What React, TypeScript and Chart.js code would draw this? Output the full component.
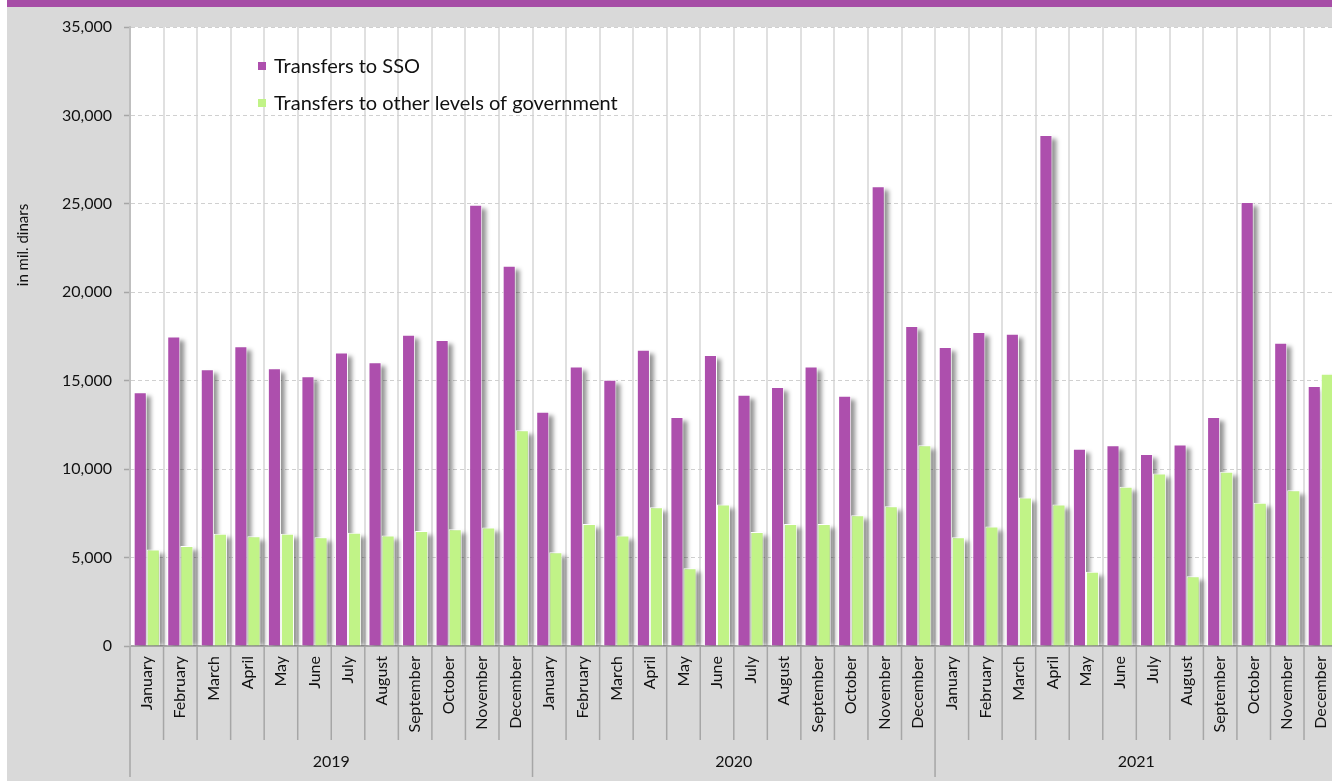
import React, { useEffect, useRef } from "react";
import { Chart, registerables } from "chart.js";

Chart.register(...registerables);

const months = ["January", "February", "March", "April", "May", "June", "July", "August", "September", "October", "November", "December"];
const years = ["2019", "2020", "2021"];

const sso2019 = [14350, 17500, 15650, 16950, 15700, 15250, 16600, 16050, 17600, 17300, 24950, 21500];
const sso2020 = [13250, 15800, 15050, 16750, 12950, 16450, 14200, 14650, 15800, 14150, 26000, 18100];
const sso2021 = [16900, 17750, 17650, 28900, 11150, 11350, 10850, 11400, 12950, 25100, 17150, 14700];

const other2019 = [5450, 5650, 6350, 6200, 6350, 6150, 6400, 6250, 6500, 6600, 6700, 12200];
const other2020 = [5300, 6900, 6250, 7850, 4400, 8000, 6450, 6900, 6900, 7400, 7900, 11350];
const other2021 = [6150, 6750, 8400, 8000, 4200, 9000, 9750, 3950, 9850, 8100, 8800, 15400];

const seriesNames = ["Transfers to SSO", "Transfers to other levels of government"];
const yAxisTitle = "in mil. dinars";
const yMin = 0;
const yMax = 35000;
const yStep = 5000;

const PURPLE = "#ad4fad";
const GREEN = "#c1f387";
const BAND = "#a64da6";
const BG = "#d9d9d9";
const AXIS = "#a6a6a6";
const TEXT = "#111111";
const FONT = "Lato";

export default function App() {
  const ref = useRef<HTMLCanvasElement | null>(null);

  useEffect(() => {
    const canvas = ref.current;
    if (!canvas) return;

    const labels = years.flatMap(() => months);
    const ssoValues = [...sso2019, ...sso2020, ...sso2021];
    const otherValues = [...other2019, ...other2020, ...other2021];

    const backgroundPlugin = {
      id: "bgPlugin",
      beforeDraw(chart: any) {
        const { ctx, chartArea, width, height } = chart;
        ctx.save();
        ctx.fillStyle = BG;
        ctx.fillRect(0, 0, width, height);
        ctx.fillStyle = BAND;
        ctx.fillRect(0, 0, width, 7);
        ctx.fillStyle = "#ffffff";
        ctx.fillRect(chartArea.left, chartArea.top, chartArea.right - chartArea.left, chartArea.bottom - chartArea.top);
        ctx.restore();
      },
    };

    const shadowPlugin = {
      id: "shadowPlugin",
      beforeDatasetsDraw(chart: any) {
        const { ctx, chartArea } = chart;
        ctx.save();
        ctx.beginPath();
        ctx.rect(chartArea.left, chartArea.top, chartArea.right - chartArea.left, chartArea.bottom - chartArea.top);
        ctx.clip();
        ctx.filter = "blur(2px)";
        ctx.fillStyle = "rgba(0,0,0,0.42)";
        chart.data.datasets.forEach((_: any, di: number) => {
          const meta = chart.getDatasetMeta(di);
          meta.data.forEach((el: any) => {
            const { x, y, base, width } = el.getProps(["x", "y", "base", "width"], true);
            const top = y + 4;
            if (base - top > 0) ctx.fillRect(x - width / 2 + 5, top, width - 1, base - top);
          });
        });
        ctx.restore();
      },
    };

    const decorPlugin = {
      id: "decorPlugin",
      afterDraw(chart: any) {
        const { ctx, chartArea } = chart;
        const xs = chart.scales.x;
        const n = labels.length;
        const catW = (xs.getPixelForValue(n - 1) - xs.getPixelForValue(0)) / (n - 1);
        ctx.save();
        ctx.strokeStyle = AXIS;
        ctx.lineWidth = 1.5;
        for (let k = 0; k <= n; k++) {
          const xb = xs.getPixelForValue(0) - catW / 2 + k * catW;
          const endY = k % 12 === 0 ? 777 : 740;
          ctx.beginPath();
          ctx.moveTo(xb, chartArea.bottom);
          ctx.lineTo(xb, endY);
          ctx.stroke();
        }
        ctx.fillStyle = TEXT;
        ctx.font = `16px ${FONT}`;
        ctx.textAlign = "center";
        ctx.textBaseline = "middle";
        years.forEach((yr, g) => {
          const cx = (xs.getPixelForValue(g * 12) + xs.getPixelForValue(g * 12 + 11)) / 2;
          ctx.fillText(yr, cx, 762);
        });
        ctx.save();
        ctx.translate(16, 245);
        ctx.rotate(-Math.PI / 2);
        ctx.font = `15px ${FONT}`;
        ctx.fillText(yAxisTitle, 0, 0);
        ctx.restore();
        const colors = [PURPLE, GREEN];
        ctx.font = `20px ${FONT}`;
        ctx.textAlign = "left";
        seriesNames.forEach((name, i) => {
          const cy = 66 + i * 37;
          ctx.fillStyle = colors[i];
          ctx.fillRect(251, cy - 4, 8, 8);
          ctx.fillStyle = TEXT;
          ctx.fillText(name, 267, cy + 1);
        });
        ctx.restore();
      },
    };

    const chart = new Chart(canvas, {
      type: "bar",
      data: {
        labels,
        datasets: [
          {
            label: seriesNames[0],
            data: ssoValues,
            backgroundColor: PURPLE,
            borderColor: "#ffffff",
            borderWidth: 1,
            categoryPercentage: 0.78,
            barPercentage: 1,
          },
          {
            label: seriesNames[1],
            data: otherValues,
            backgroundColor: GREEN,
            borderColor: "#ffffff",
            borderWidth: 1,
            categoryPercentage: 0.78,
            barPercentage: 1,
          },
        ],
      },
      options: {
        responsive: false,
        animation: false,
        layout: { padding: { top: 27, left: 0, right: 0, bottom: 0 } },
        plugins: {
          legend: { display: false },
          tooltip: { enabled: false },
        },
        scales: {
          x: {
            grid: { color: "#e0e0e0", lineWidth: 2, drawTicks: false, offset: true },
            border: { color: AXIS, width: 2 },
            ticks: {
              autoSkip: false,
              minRotation: 90,
              maxRotation: 90,
              padding: 10,
              color: TEXT,
              font: { family: FONT, size: 16 },
            },
            afterFit: (s: any) => {
              s.height = 135;
            },
          },
          y: {
            min: yMin,
            max: yMax,
            grid: {
              color: "#d0d0d0",
              lineWidth: 1,
              tickColor: AXIS,
              tickLength: 6,
              tickWidth: 1.5,
            },
            border: { color: "#bfbfbf", width: 2, dash: [4, 3] },
            ticks: {
              stepSize: yStep,
              padding: 12,
              color: TEXT,
              font: { family: FONT, size: 16 },
              callback: (v: any) => Number(v).toLocaleString("en-US"),
            },
            afterFit: (s: any) => {
              s.width = 123;
            },
          },
        },
      },
      plugins: [backgroundPlugin, shadowPlugin, decorPlugin],
    });

    return () => chart.destroy();
  }, []);

  return (
    <div style={{ position: "absolute", left: 0, top: 0, width: 1332, height: 781, overflow: "hidden", background: "#fff" }}>
      <canvas ref={ref} width={1343} height={781} style={{ position: "absolute", left: 7, top: 0 }} />
    </div>
  );
}
